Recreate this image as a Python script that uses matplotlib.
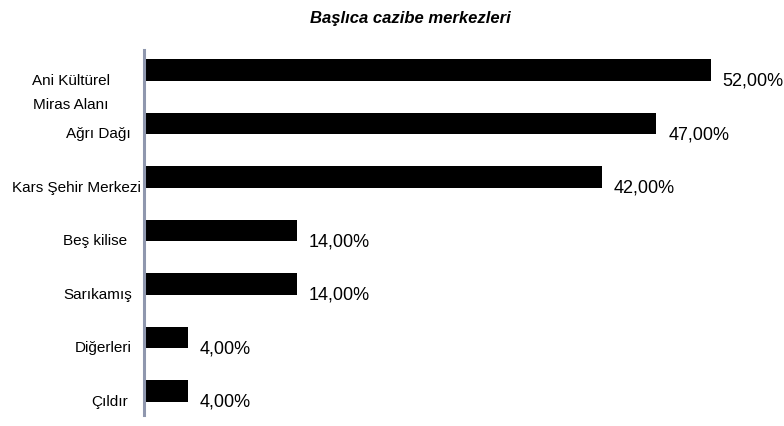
import matplotlib.pyplot as plt
from matplotlib.transforms import offset_copy

plt.rcParams['font.family'] = ['Liberation Sans', 'DejaVu Sans']

# cazibe merkezleri ve oranlari (%)
places = ["Ani Kültürel\nMiras Alanı", "Ağrı Dağı", "Kars Şehir Merkezi",
          "Beş kilise", "Sarıkamış", "Diğerleri", "Çıldır"]
shares = [52, 47, 42, 14, 14, 4, 4]
share_labels = ["52,00%", "47,00%", "42,00%", "14,00%", "14,00%", "4,00%", "4,00%"]

# horizontal placement of each category label (dots left of the axis, alignment)
label_shift = [-73, -13, -3, -17, -12, -12, -16]
label_align = ['center', 'right', 'right', 'right', 'right', 'right', 'right']

fig = plt.figure(figsize=(7.84, 4.26), dpi=100)
ax = fig.add_axes([144 / 784, 11 / 426, 632 / 784, 365 / 426])

pos = list(range(len(places)))
ax.barh(pos, shares, height=0.4, color='black')

ax.set_xlim(0, 58)
ax.set_ylim(6.45, -0.37)
ax.set_xticks([])
ax.set_yticks([])

for s in ['top', 'right', 'bottom']:
    ax.spines[s].set_visible(False)
ax.spines['left'].set_color('#8f97ae')
ax.spines['left'].set_linewidth(2.2)

# category names: first baseline a little below the bar centre,
# wrapped names continue downward (baseline alignment uses the last line)
for y, name, dx, ha in zip(pos, places, label_shift, label_align):
    dy = -15 - 24 * name.count('\n')
    tr = offset_copy(ax.get_yaxis_transform(), fig=fig, x=dx, y=dy, units='dots')
    ax.text(0, y, name, transform=tr, fontsize=11, ha=ha, va='baseline',
            multialignment='center', linespacing=1.85)

# value text just past the end of each bar
for y, v, t in zip(pos, shares, share_labels):
    tr = offset_copy(ax.transData, fig=fig, x=12, y=-16, units='dots')
    ax.text(v, y, t, transform=tr, fontsize=13, va='baseline', ha='left')

fig.text(410 / 784, 1 - 18 / 426, "Başlıca cazibe merkezleri",
         fontsize=12, fontweight='bold', fontstyle='italic',
         ha='center', va='center')

fig.savefig('out.png', dpi=100)
